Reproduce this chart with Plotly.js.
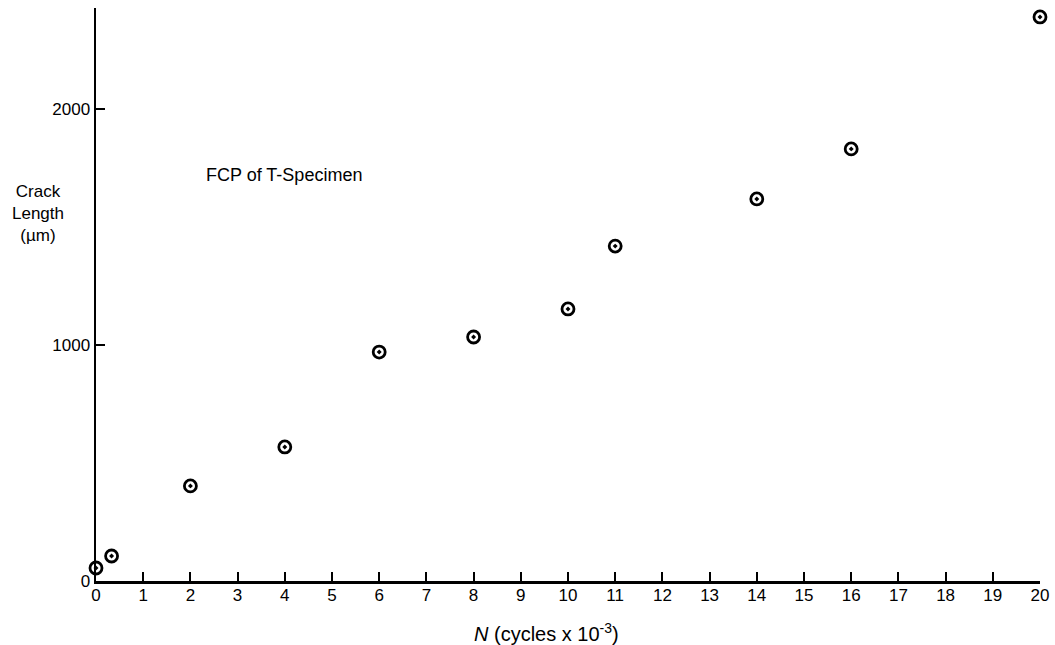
<!DOCTYPE html>
<html>
<head>
<meta charset="utf-8">
<script src="https://cdn.plot.ly/plotly-3.0.1.min.js"></script>
<style>html,body{margin:0;padding:0;background:#fff;}#chart{width:1055px;height:645px;}</style>
</head>
<body>
<div id="chart"></div>
<script>
// Data
const cycles = [0, 0.33, 2, 4, 6, 8, 10, 11, 14, 16, 20];          // N (cycles x 10^-3)
const crackLength = [55, 106, 403, 568, 970, 1034, 1153, 1419, 1619, 1831, 2390]; // µm
const xTickVals = [0,1,2,3,4,5,6,7,8,9,10,11,12,13,14,15,16,17,18,19,20];
const yTickVals = [0, 1000, 2000];

const W = 1055, H = 645;
const L = 96, R = 15, T = 8, B = 64;
const pw = W - L - R, ph = H - T - B;
const px = x => (x - L) / pw;
const py = y => (H - B - y) / ph;

const font = {family: '"Liberation Sans", Arial, sans-serif', color: '#000'};

Plotly.newPlot('chart', [{
  x: cycles, y: crackLength,
  type: 'scatter', mode: 'markers',
  marker: {symbol: 'circle-open-dot', size: 12, color: '#000', line: {width: 2.8, color: '#000'}},
  cliponaxis: false,
  hoverinfo: 'skip'
}], {
  width: W, height: H,
  margin: {l: L, r: R, t: T, b: B},
  paper_bgcolor: '#fff', plot_bgcolor: '#fff',
  showlegend: false,
  font: Object.assign({size: 16}, font),
  xaxis: {
    range: [0, 20], tickmode: 'array', tickvals: xTickVals,
    ticks: 'inside', ticklen: 9, tickwidth: 2, tickcolor: '#000',
    showline: true, linewidth: 2.5, linecolor: '#000',
    showgrid: false, zeroline: false, mirror: false,
    tickfont: Object.assign({size: 17}, font),
    ticklabelstandoff: -3,
    fixedrange: true
  },
  yaxis: {
    range: [0, 2428], tickmode: 'array', tickvals: yTickVals,
    ticks: 'inside', ticklen: 9, tickwidth: 2, tickcolor: '#000',
    showline: true, linewidth: 2.5, linecolor: '#000',
    showgrid: false, zeroline: false, mirror: false,
    tickfont: Object.assign({size: 17}, font),
    ticklabelstandoff: 0,
    fixedrange: true
  },
  annotations: [
    {text: 'FCP of T-Specimen', xref: 'paper', yref: 'paper', x: px(204), y: py(175),
     xanchor: 'left', yanchor: 'middle', showarrow: false, font: Object.assign({size: 18}, font)},
    {text: 'Crack<br>Length<br>(µm)', xref: 'paper', yref: 'paper', x: px(38), y: py(213),
     xanchor: 'center', yanchor: 'middle', align: 'center', showarrow: false,
     font: Object.assign({size: 17}, font)},
    {text: '<i>N</i> (cycles x 10<sup>-3</sup>)', xref: 'paper', yref: 'paper', x: px(546), y: py(632),
     xanchor: 'center', yanchor: 'middle', showarrow: false, font: Object.assign({size: 20}, font)}
  ]
}, {displayModeBar: false, staticPlot: true});
</script>
</body>
</html>
